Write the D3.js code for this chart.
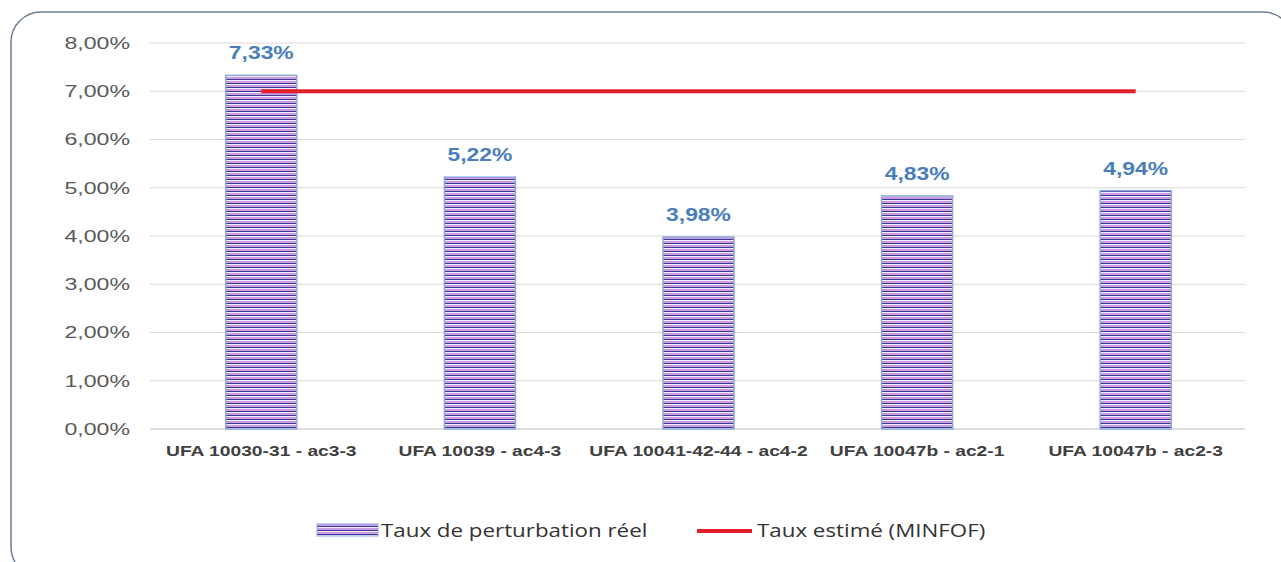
<!DOCTYPE html>
<meta charset="utf-8">
<style>
  body { margin: 0; background: #fff; }
  .tick text { font-family: Arial, "Liberation Sans", sans-serif; }
</style>

<body>
  <script src="https://cdn.jsdelivr.net/npm/d3@7"></script>
  <script>

    var categories = ["UFA 10030-31 - ac3-3", "UFA 10039 - ac4-3", "UFA 10041-42-44 - ac4-2",
      "UFA 10047b - ac2-1", "UFA 10047b - ac2-3"];
    var reel = [7.33, 5.22, 3.98, 4.83, 4.94];
    var estime = [7, 7, 7, 7, 7];
    var yTicks = [0, 1, 2, 3, 4, 5, 6, 7, 8];
    var seriesNames = ["Taux de perturbation réel", "Taux estimé (MINFOF)"];

    var W = 1281, H = 562;
    var margin = { top: 43, right: 36, bottom: 133, left: 152 },
      width = W - margin.left - margin.right,
      height = H - margin.top - margin.bottom;

    var fmt = function (v) { return v.toFixed(2).replace(".", ",") + "%"; };

    // the source picture is stretched sideways, so widen the glyphs a bit
    function stretch(sel, k) {
      sel.each(function () {
        var len = this.getComputedTextLength();
        d3.select(this)
          .attr("textLength", len * k)
          .attr("lengthAdjust", "spacingAndGlyphs");
      });
    }

    var svg = d3.select("body").append("svg")
      .attr("width", W)
      .attr("height", H);

    // stripe pattern
    var defs = svg.append("defs");
    var pat = defs.append("pattern")
      .attr("id", "stripes")
      .attr("patternUnits", "userSpaceOnUse")
      .attr("width", 8).attr("height", 4);
    pat.append("rect").attr("width", 8).attr("height", 4).attr("fill", "#c99be6");
    pat.append("rect").attr("y", 0).attr("width", 8).attr("height", 1).attr("fill", "#3a3c8e");
    pat.append("rect").attr("y", 1).attr("width", 8).attr("height", 1).attr("fill", "#f3eafb");

    // frame
    svg.append("rect")
      .attr("x", 11).attr("y", 12)
      .attr("width", 1282).attr("height", 565)
      .attr("rx", 30).attr("ry", 30)
      .attr("fill", "none")
      .attr("stroke", "#6d7f91")
      .attr("stroke-width", 1.5);

    var g = svg.append("g")
      .attr("transform", "translate(" + margin.left + "," + margin.top + ")");

    var x = d3.scaleBand()
      .domain(categories)
      .range([0, width])
      .paddingInner(0.675)
      .paddingOuter(0.3375);

    var y = d3.scaleLinear()
      .domain([0, 8])
      .range([height, 0]);

    // grid
    g.append("g")
      .selectAll("line")
      .data(yTicks)
      .enter().append("line")
      .attr("x1", -2).attr("x2", width)
      .attr("y1", function (d) { return y(d); })
      .attr("y2", function (d) { return y(d); })
      .attr("stroke", function (d) { return d === 0 ? "#bfbfbf" : "#d9d9d9"; })
      .attr("stroke-width", 1.2);

    // y axis
    var yAxis = g.append("g")
      .call(d3.axisLeft(y).tickValues(yTicks).tickSize(0).tickPadding(22)
        .tickFormat(function (d) { return fmt(d); }));
    yAxis.select(".domain").remove();
    yAxis.selectAll("text")
      .attr("fill", "#595959")
      .style("font-size", "16.5px")
      .call(stretch, 1.4);

    // x axis
    var xAxis = g.append("g")
      .attr("transform", "translate(0," + height + ")")
      .call(d3.axisBottom(x).tickSize(0).tickPadding(16));
    xAxis.select(".domain").remove();
    xAxis.selectAll("text")
      .attr("fill", "#404040")
      .style("font-size", "15.5px")
      .style("font-weight", "bold")
      .call(stretch, 1.24);

    // bars
    g.selectAll(".bar")
      .data(reel)
      .enter().append("rect")
      .attr("class", "bar")
      .attr("x", function (d, i) { return x(categories[i]); })
      .attr("width", x.bandwidth())
      .attr("y", function (d) { return y(d); })
      .attr("height", function (d) { return height - y(d); })
      .attr("fill", "url(#stripes)")
      .attr("stroke", "#8eaadb")
      .attr("stroke-width", 1.5);

    // value labels
    g.selectAll(".val")
      .data(reel)
      .enter().append("text")
      .attr("class", "val")
      .attr("x", function (d, i) { return x(categories[i]) + x.bandwidth() / 2; })
      .attr("y", function (d) { return y(d) - 16; })
      .attr("text-anchor", "middle")
      .attr("fill", "#4a7ebb")
      .style("font-family", "Arial, 'Liberation Sans', sans-serif")
      .style("font-size", "18px")
      .style("font-weight", "bold")
      .text(function (d) { return fmt(d); })
      .call(stretch, 1.27);

    // red line
    var line = d3.line()
      .x(function (d, i) { return x(categories[i]) + x.bandwidth() / 2; })
      .y(function (d) { return y(d); });
    g.append("path")
      .datum(estime)
      .attr("d", line)
      .attr("fill", "none")
      .attr("stroke", "#e3202a")
      .attr("stroke-width", 4);

    // legend
    var lg = svg.append("g").attr("transform", "translate(0,530)");
    lg.append("rect")
      .attr("x", 317).attr("y", -6).attr("width", 61).attr("height", 12)
      .attr("fill", "url(#stripes)")
      .attr("stroke", "#8eaadb").attr("stroke-width", 1);
    lg.append("text")
      .attr("x", 381).attr("y", 7)
      .attr("fill", "#333")
      .style("font-family", "'Open Sans', 'Noto Sans', sans-serif")
      .style("font-size", "18px")
      .text(seriesNames[0])
      .call(stretch, 1.24);
    lg.append("line")
      .attr("x1", 697).attr("x2", 752).attr("y1", 1).attr("y2", 1)
      .attr("stroke", "#e3202a").attr("stroke-width", 4);
    lg.append("text")
      .attr("x", 757).attr("y", 7)
      .attr("fill", "#333")
      .style("font-family", "'Open Sans', 'Noto Sans', sans-serif")
      .style("font-size", "18px")
      .text(seriesNames[1])
      .call(stretch, 1.24);

  </script>
</body>

</html>
